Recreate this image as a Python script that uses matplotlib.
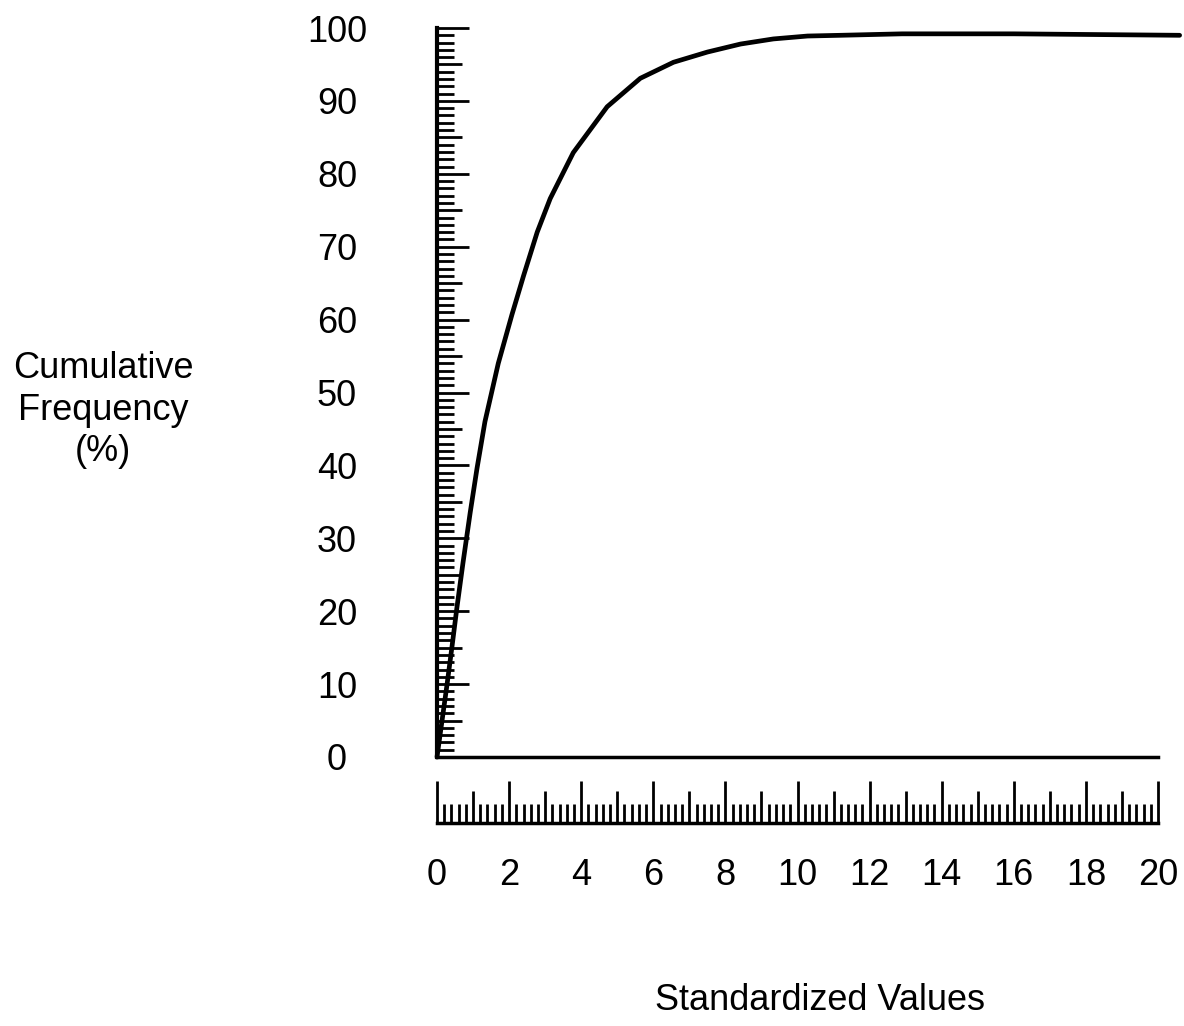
import matplotlib
matplotlib.use("Agg")
import matplotlib.pyplot as plt
import numpy as np

plt.rcParams['font.family'] = ['Liberation Sans', 'DejaVu Sans']

# values
std_values = [0, 0.14, 0.28, 0.42, 0.55, 0.72, 0.92, 1.11, 1.33, 1.7, 2.08,
              2.4, 2.78, 3.14, 3.78, 4.72, 5.64, 6.56, 7.5, 8.42, 9.33,
              10.28, 11.2, 12.9, 16.0, 20.6]
cum_freq = [0, 5.0, 10.0, 15.3, 20.4, 26.6, 33.5, 39.6, 46.0, 54.0, 60.7,
            66.0, 72.0, 76.6, 82.9, 89.2, 93.1, 95.3, 96.7, 97.8, 98.5,
            98.9, 99.0, 99.2, 99.2, 99.0]

y_major = list(range(0, 101, 10))
x_major = list(range(0, 21, 2))

W, H = 1184, 1026
fig = plt.figure(figsize=(W / 100, H / 100), dpi=100)

# main plot area
ax = fig.add_axes([437 / W, 269 / H, 721 / W, 729 / H])
ax.plot(std_values, cum_freq, color='black', lw=3.4, clip_on=False,
        solid_capstyle='round', solid_joinstyle='round')
ax.set_xlim(0, 20)
ax.set_ylim(0, 100)
for side in ['top', 'right']:
    ax.spines[side].set_visible(False)
ax.spines['left'].set_linewidth(3)
ax.spines['bottom'].set_linewidth(2.5)
ax.set_xticks([])

# y ruler: ticks every 5 (labels at 10) plus minor every 1
ax.set_yticks(list(range(0, 101, 5)))
ax.set_yticklabels([str(v) if v in y_major else '' for v in range(0, 101, 5)])
ax.set_yticks(list(range(0, 101, 1)), minor=True)
ax.tick_params(axis='y', which='both', direction='in', width=2, color='black')
ax.tick_params(axis='y', which='minor', length=12)
ax.tick_params(axis='y', which='major', length=23, labelsize=26, pad=72)
for v, tick in zip(range(0, 101, 5), ax.yaxis.get_major_ticks()):
    if v not in y_major:
        tick.tick1line.set_markersize(18)
for lab in ax.get_yticklabels():
    lab.set_horizontalalignment('center')

# x ruler below the plot
rx = fig.add_axes([437 / W, 203 / H, 721 / W, 50 / H])
rx.set_xlim(0, 20)
rx.set_ylim(0, 1)
for side in ['top', 'right', 'left']:
    rx.spines[side].set_visible(False)
rx.spines['bottom'].set_linewidth(2.5)
rx.set_yticks([])
rx.set_xticks(list(range(0, 21)))
rx.set_xticklabels([str(v) if v in x_major else '' for v in range(0, 21)])
rx.set_xticks(np.arange(0, 20.01, 0.2), minor=True)
rx.tick_params(axis='x', which='both', direction='in', width=2, color='black')
rx.tick_params(axis='x', which='minor', length=14)
rx.tick_params(axis='x', which='major', length=30, labelsize=26, pad=25)
for v, tick in zip(range(0, 21), rx.xaxis.get_major_ticks()):
    if v not in x_major:
        tick.tick1line.set_markersize(23)

fig.text(820 / W, 1 - 1000 / H, 'Standardized Values', fontsize=26,
         ha='center', va='center')
fig.text(103 / W, 1 - 410 / H, 'Cumulative\nFrequency\n(%)', fontsize=26,
         ha='center', va='center', linespacing=1.25)

fig.savefig('out.png', dpi=100)
